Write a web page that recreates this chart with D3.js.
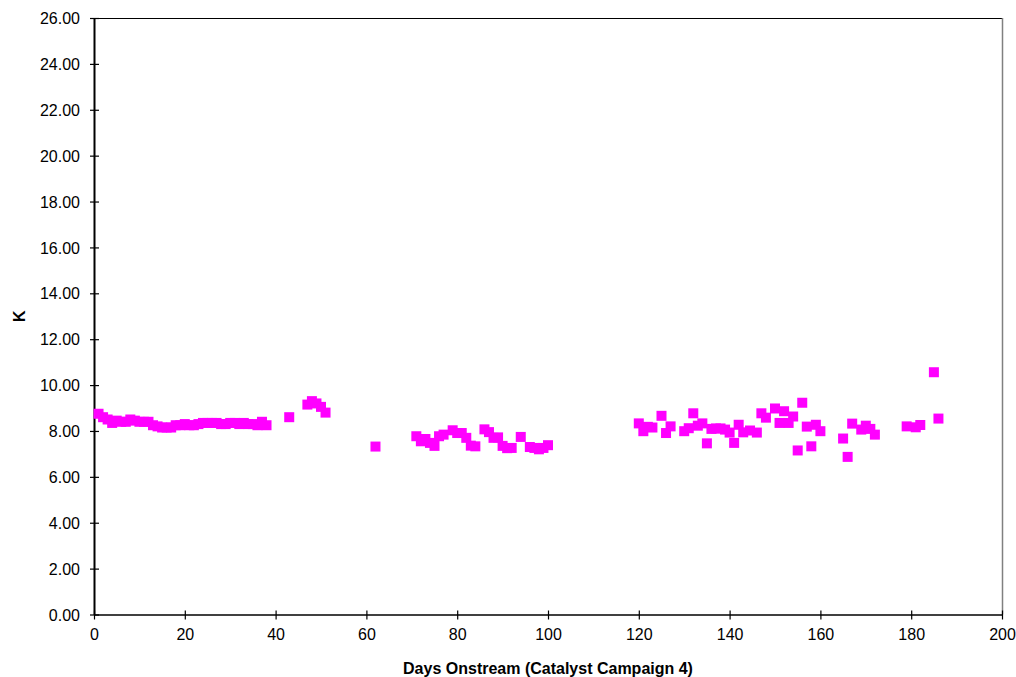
<!DOCTYPE html>
<html>
<head>
<meta charset="utf-8">
<script src="https://d3js.org/d3.v7.min.js"></script>
<style>
  html, body { margin: 0; padding: 0; background: #fff; }
  svg { display: block; font-family: "Liberation Sans", Arial, sans-serif; }
</style>
</head>
<body>
<svg id="chart" width="1016" height="677"></svg>
<script>
// Days onstream for each K measurement
const days = [
  1, 2, 3, 4, 5, 6, 7, 8, 9, 10, 11, 12, 13, 14, 15, 16, 17, 18, 19, 20,
  21, 22, 23, 24, 25, 26, 27, 28, 29, 30, 31, 32, 33, 34, 35, 36, 37, 38,
  43, 47, 48, 49, 50, 51,
  62,
  71, 72, 73, 74, 75, 76, 77, 79, 80, 81, 82, 83, 84, 86, 87, 88, 89, 90, 91, 92, 94, 96, 97, 98, 99, 100,
  120, 121, 122, 123, 125, 126, 127, 130, 131, 132, 133, 134, 135, 136, 137, 138, 139, 140, 141, 142, 143,
  144.5, 146, 147, 148, 150, 151, 152, 153, 154, 155, 156, 157, 158, 159, 160,
  165, 166, 167, 169, 170, 171, 172, 179, 181, 182, 185, 186
];

// Measured K values
const kValues = [
  8.75, 8.6, 8.5, 8.35, 8.45, 8.4, 8.4, 8.5, 8.45, 8.4, 8.4, 8.4, 8.25, 8.2, 8.15, 8.15, 8.15, 8.25, 8.25, 8.3,
  8.25, 8.25, 8.3, 8.35, 8.35, 8.35, 8.35, 8.3, 8.3, 8.35, 8.35, 8.3, 8.35, 8.3, 8.3, 8.25, 8.4, 8.25,
  8.6, 9.15, 9.3, 9.2, 9.05, 8.8,
  7.32,
  7.77, 7.55, 7.65, 7.48, 7.35, 7.77, 7.84, 8.03, 7.91, 7.91, 7.7, 7.36, 7.33, 8.07, 7.95, 7.7, 7.72, 7.35, 7.25, 7.26, 7.74, 7.3, 7.26, 7.2, 7.26, 7.38,
  8.33, 7.99, 8.18, 8.15, 8.66, 7.91, 8.2, 7.99, 8.12, 8.77, 8.23, 8.33, 7.46, 8.09, 8.11, 8.11, 8.06, 7.93, 7.48, 8.27, 7.94,
  8.02, 7.93, 8.77, 8.58, 8.98, 8.35, 8.86, 8.35, 8.63, 7.15, 9.23, 8.19, 7.33, 8.27, 7.99,
  7.67, 6.87, 8.32, 8.06, 8.23, 8.09, 7.84, 8.2, 8.16, 8.26, 10.56, 8.54
];

const xTicks = [0, 20, 40, 60, 80, 100, 120, 140, 160, 180, 200];
const yTicks = [0, 2, 4, 6, 8, 10, 12, 14, 16, 18, 20, 22, 24, 26];
const xTitle = "Days Onstream (Catalyst Campaign 4)";
const yTitle = "K";

const svg = d3.select("#chart");
const plotLeft = 94, plotRight = 1002, plotTop = 18, plotBottom = 614.5;

const x = d3.scaleLinear().domain([0, 200]).range([plotLeft, plotRight]);
const y = d3.scaleLinear().domain([0, 26]).range([plotBottom, plotTop]);

// Plot frame: top and right edges
svg.append("line")
  .attr("x1", plotLeft).attr("x2", plotRight).attr("y1", plotTop + 0.5).attr("y2", plotTop + 0.5)
  .attr("stroke", "#000").attr("stroke-width", 1);
svg.append("line")
  .attr("x1", plotRight + 0.5).attr("x2", plotRight + 0.5).attr("y1", plotTop).attr("y2", plotBottom)
  .attr("stroke", "#808080").attr("stroke-width", 1.5);

// Axes with ticks that cross the axis line
const xAxis = svg.append("g")
  .attr("transform", `translate(0,${plotBottom})`)
  .call(d3.axisBottom(x).tickValues(xTicks).tickFormat(d3.format("d")).tickSize(0).tickSizeOuter(0));
xAxis.select(".domain").attr("stroke", "#000").attr("stroke-width", 1.5);
xAxis.selectAll(".tick line").remove();
xAxis.selectAll(".tick").append("line")
  .attr("y1", -4).attr("y2", 5).attr("stroke", "#000").attr("stroke-width", 1.2);
xAxis.selectAll(".tick text")
  .attr("y", 14).attr("dy", "0.71em")
  .attr("font-size", 16).attr("fill", "#000")
  .attr("font-family", "'Liberation Sans', Arial, sans-serif");

const yAxis = svg.append("g")
  .attr("transform", `translate(${plotLeft},0)`)
  .call(d3.axisLeft(y).tickValues(yTicks).tickFormat(d3.format(".2f")).tickSize(0).tickSizeOuter(0));
yAxis.select(".domain").attr("stroke", "#000").attr("stroke-width", 2);
yAxis.selectAll(".tick line").remove();
yAxis.selectAll(".tick").append("line")
  .attr("x1", -4).attr("x2", 5).attr("stroke", "#000").attr("stroke-width", 1.2);
yAxis.selectAll(".tick text")
  .attr("x", -14).attr("dy", "0.35em")
  .attr("font-size", 16).attr("fill", "#000")
  .attr("font-family", "'Liberation Sans', Arial, sans-serif");

// Axis titles
svg.append("text")
  .attr("x", (plotLeft + plotRight) / 2).attr("y", 674)
  .attr("text-anchor", "middle")
  .attr("font-size", 16).attr("font-weight", "bold")
  .text(xTitle);
svg.append("text")
  .attr("transform", `translate(25,${(plotTop + plotBottom) / 2}) rotate(-90)`)
  .attr("text-anchor", "middle")
  .attr("font-size", 16).attr("font-weight", "bold")
  .text(yTitle);

// Square markers
const size = 10;
svg.append("g")
  .selectAll("rect")
  .data(days.map((d, i) => ({ day: d, k: kValues[i] })))
  .join("rect")
  .attr("x", d => x(d.day) - size / 2)
  .attr("y", d => y(d.k) - size / 2)
  .attr("width", size).attr("height", size)
  .attr("fill", "#ff00ff");
</script>
</body>
</html>
